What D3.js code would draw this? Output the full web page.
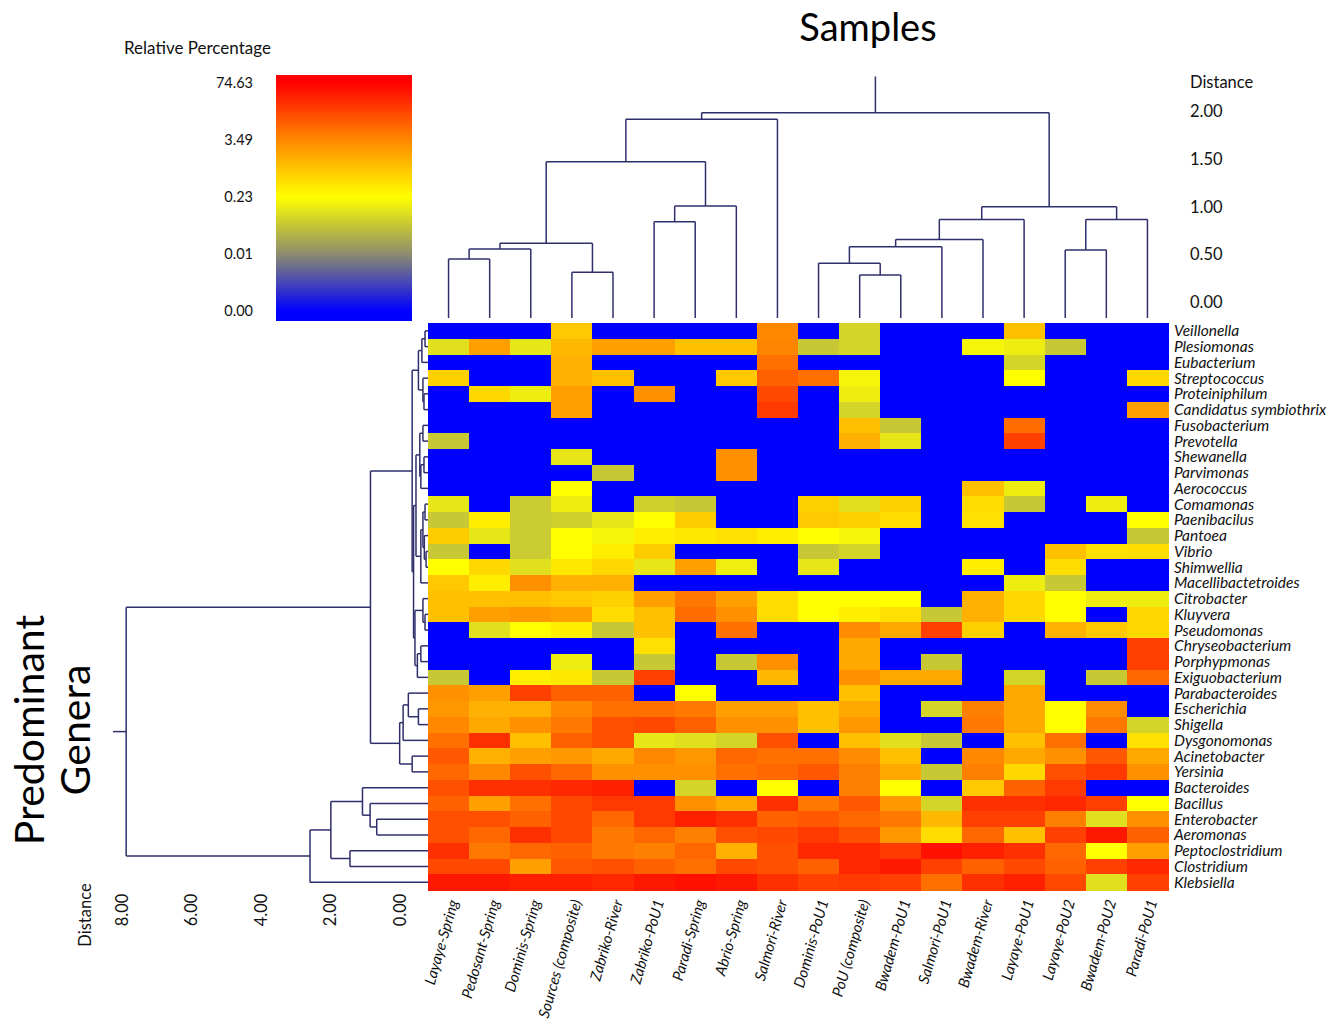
<!DOCTYPE html>
<html><head><meta charset="utf-8">
<script src="https://cdn.jsdelivr.net/npm/d3@7"></script>
<style>
body{margin:0;background:#fff;}
svg{display:block;font-family:Lato,'Open Sans',sans-serif;}
</style>
</head><body>
<svg id="chart" width="1343" height="1027"></svg>
<script>
// ---------------- data ----------------
const samples = ["Layaye-Spring","Pedosant-Spring","Dominis-Spring","Sources (composite)","Zabriko-River","Zabriko-PoU1","Paradi-Spring","Abrio-Spring","Salmori-River","Dominis-PoU1","PoU (composite)","Bwadem-PoU1","Salmori-PoU1","Bwadem-River","Layaye-PoU1","Layaye-PoU2","Bwadem-PoU2","Paradi-PoU1"];

const genera = ["Veillonella","Plesiomonas","Eubacterium","Streptococcus","Proteiniphilum","Candidatus symbiothrix","Fusobacterium","Prevotella","Shewanella","Parvimonas","Aerococcus","Comamonas","Paenibacilus","Pantoea","Vibrio","Shimwellia","Macellibactetroides","Citrobacter","Kluyvera","Pseudomonas","Chryseobacterium","Porphypmonas","Exiguobacterium","Parabacteroides","Escherichia","Shigella","Dysgonomonas","Acinetobacter","Yersinia","Bacteroides","Bacillus","Enterobacter","Aeromonas","Peptoclostridium","Clostridium","Klebsiella"];

// relative percentage, one row per genus, one column per sample
const values = [
 [0,0,0,1.74,0,0,0,0,3.49, 0,0.15,0,0,0,1.96,0,0,0],
 [0.17,2.83,0.185,2.18,2.83,2.83,1.96,1.96,5, 0.125,0.15,0,0,0.21,0.195,0.125,0,0],
 [0,0,0,2.39,0,0,0,0,16, 0,0,0,0,0,0.15,0,0,0],
 [1.52,0,0,2.39,1.96,0,0,1.74,24, 16,0.21,0,0,0,0.23,0,0,1.3],
 [0,1.3,0.195,2.83,0,3.27,0,0,36.9, 0,0.195,0,0,0,0,0,0,0],
 [0,0,0,2.83,0,0,0,0,45, 0,0.15,0,0,0,0,0,0,2.83],
 [0,0,0,0,0,0,0,0,0, 0,1.96,0.125,0,0,18,0,0,0],
 [0.125,0,0,0,0,0,0,0,0, 0,2.39,0.185,0,0,41,0,0,0],
 [0,0,0,0.185,0,0,0,3.27,0, 0,0,0,0,0,0,0,0,0],
 [0,0,0,0,0.125,0,0,3.27,0, 0,0,0,0,0,0,0,0,0],
 [0,0,0,0.23,0,0,0,0,0, 0,0,0,0,1.96,0.195,0,0,0],
 [0.185,0,0.13,0.195,0,0.14,0.125,0,0, 1.52,0.17,1.52,0,1.16,0.125,0,0.195,0],
 [0.125,0.7,0.13,0.14,0.185,0.23,1.63,0,0, 1.74,1.52,1.16,0,1.08,0,0,0,0.23],
 [1.63,0.185,0.13,0.23,0.21,0.7,0.86,1.08,0.7, 0.23,0.21,0,0,0,0,0,0,0.125],
 [0.125,0,0.13,0.23,0.7,1.63,0,0,0, 0.125,0.15,0,0,0,0,1.96,1.08,1.16],
 [0.23,1.3,0.17,0.86,1.3,0.185,2.83,0.2,0, 0.185,0,0,0,0.7,0,1.16,0,0],
 [1.74,0.7,3.27,2.39,2.39,0,0,0,0, 0,0,0,0,0,0.195,0.125,0,0],
 [1.96,1.96,1.96,1.74,1.52,2.83,11.9,2.83,1.16, 0.23,0.23,0.23,0,2.39,1.3,0.23,0.195,0.195],
 [1.96,2.83,3.05,2.83,1.16,1.96,18,3.27,1.16, 0.23,0.7,1.08,0.125,2.39,1.3,0.23,0,1.3],
 [0,0.17,0.23,0.7,0.125,1.96,0,16,0, 0,3.38,2.61,41,1.52,0,2.39,1.74,1.3],
 [0,0,0,0,0,1.08,0,0,0, 0,2.61,0,0,0,0,0,0,41],
 [0,0,0,0.195,0,0.125,0,0.125,3.27, 0,2.61,0,0.125,0,0,0,0,41],
 [0.125,0,0.7,0.86,0.125,41,0,0,2.18, 0,3.27,2.61,2.61,0,0.15,0,0.125,20.2],
 [3.27,2.83,41,24.4,24.4,0,0.23,0,0, 0,1.96,0,0,0,2.61,0,0,0],
 [3.05,2.39,2.39,3.49,16,16,11.9,2.83,2.83, 1.96,2.61,0,0.15,7.7,2.61,0.23,3.38,0],
 [3.49,2.61,3.27,11.9,32.7,36.9,24.4,3.27,3.27, 1.96,3.05,0,0,11.9,2.61,0.23,11.9,0.15],
 [16,49.5,1.96,24.4,32.7,0.185,0.17,0.15,32.7, 0,1.96,0.17,0.125,0,1.96,16,0,1.08],
 [28.5,2.39,2.83,3.05,2.61,3.49,3.05,20.2,16, 16,3.38,1.96,0,3.49,2.61,3.27,28.5,2.61],
 [20.2,3.49,32.7,20.2,3.27,3.27,3.27,16,20.2, 28.5,7.7,2.61,0.125,7.7,1.3,32.7,45,3.27],
 [32.7,49.5,49.5,53.7,57.9,0,0.15,0,0.23, 0,7.7,0.23,0,1.74,24.4,45,0,0],
 [24.4,2.83,16,36.9,45,45,3.27,2.61,49.5, 11.9,28.5,3.05,0.15,49.5,49.5,53.7,41,0.23],
 [32.7,32.7,24.4,36.9,20.2,45,57.9,49.5,24.4, 28.5,20.2,11.9,2.18,41,41,7.7,0.17,3.27],
 [32.7,20.2,49.5,36.9,11.9,20.2,7.7,32.7,36.9, 45,32.7,3.05,1.16,20.2,1.96,41,62.1,24.4],
 [49.5,11.9,20.2,24.4,11.9,7.7,20.2,2.39,32.7, 53.7,53.7,45,66.3,57.9,49.5,20.2,0.23,2.83],
 [36.9,36.9,2.83,28.5,32.7,24.4,16,36.9,32.7, 24.4,53.7,62.1,41,24.4,36.9,24.4,41,53.7],
 [62.1,62.1,57.9,57.9,53.7,62.1,66.3,62.1,49.5, 41,45,41,16,49.5,57.9,36.9,0.17,41]
];

const legendTickLabels = ["74.63","3.49","0.23","0.01","0.00"];
const legendTickValues = [74.63,3.49,0.23,0.01,0];
const colorDomain = [0,0.01,0.23,3.49,74.63];
const colorRange = ["#0000ff","#8c8c6e","#ffff00","#ff8800","#ff0000"];

// dendrograms: [distance, left, right]; numbers are leaf indices
const sampleTree = [1.99,
  [1.92, [1.476, [0.62, [0.56, [0.455, 0, 1], 2], [0.315, 3, 4]], [1.01, [0.846, 5, 6], 7]], 8],
  [1.003, [0.87, [0.66, [0.584, [0.41, 9, [0.287, 10, 11]], 12], 13], 14], [0.87, [0.55, 15, 16], 17]]
];
const sampleTreeStem = 2.37;
const sampleAxisTicks = [0,0.5,1,1.5,2];

const generaTree = [7.88,
  [0.85,
    [-0.35,
      [-0.53, [-0.63, [-0.72, 0, 1], 2], [-0.66, 3, [-0.69, 4, 5]]],
      [-0.39,
        [-0.46,
          [-0.57, [-0.66, 6, 7], [-0.6, [-0.69, 8, 9], 10]],
          [-0.6, [-0.66, [-0.72, 11, 12], [-0.7, 13, [-0.75, 14, 15]]], 16]],
        [-0.43, [-0.66, 17, [-0.72, 18, 19]], [-0.5, [-0.6, 20, 21], 22]]]],
    [0.01, [-0.09, [-0.24, 23, [-0.53, 24, 25]], 26], [-0.35, 27, 28]]],
  [2.59, [1.99, [1.08, 29, [0.86, 30, [0.67, 31, 32]]], [1.44, 33, 34]], 35]
];
const generaTreeStem = 8.26;
const generaAxisTicks = [0,2,4,6,8];

// ---------------- drawing ----------------
const svg = d3.select("#chart");
const hm = {left:428, right:1168, top:323, bottom:890};
const lineColor = "#2f2f6c";

const x = d3.scaleBand().domain(samples).range([hm.left, hm.right]);
const y = d3.scaleBand().domain(genera).range([hm.top, hm.bottom]);
const color = d3.scaleLinear().domain(colorDomain).range(colorRange).interpolate(d3.interpolateRgb).clamp(true);

// heatmap cells
const cells = [];
values.forEach((row, i) => row.forEach((v, j) => cells.push({g: genera[i], s: samples[j], v})));
svg.append("g").selectAll("rect").data(cells).join("rect")
  .attr("x", d => x(d.s)).attr("y", d => y(d.g))
  .attr("width", x.bandwidth() + 0.6).attr("height", y.bandwidth() + 0.6)
  .attr("fill", d => color(d.v)).attr("shape-rendering", "crispEdges");

// dendrogram helper
function buildSegments(tree, posOf) {
  const segs = [];
  function rec(node) {
    if (typeof node === "number") return {p: posOf(node), h: null};
    const [h, a, b] = node;
    const A = rec(a), B = rec(b);
    segs.push({p1: A.p, h1: A.h, p2: A.p, h2: h});
    segs.push({p1: B.p, h1: B.h, p2: B.p, h2: h});
    segs.push({p1: A.p, h1: h, p2: B.p, h2: h});
    return {p: (A.p + B.p) / 2, h};
  }
  const root = rec(tree);
  return {segs, root};
}

// top (samples) dendrogram
const yD = d3.scaleLinear().domain([0, 2]).range([302.3, 111.7]);
const topLeafY = hm.top - 5;
const topD = buildSegments(sampleTree, i => x(samples[i]) + x.bandwidth() / 2);
topD.segs.push({p1: topD.root.p, h1: topD.root.h, p2: topD.root.p, h2: sampleTreeStem});
const tY = h => h === null ? topLeafY : yD(h);
svg.append("g").selectAll("line").data(topD.segs).join("line")
  .attr("x1", d => d.p1).attr("x2", d => d.p2)
  .attr("y1", d => tY(d.h1)).attr("y2", d => tY(d.h2))
  .attr("stroke", lineColor).attr("stroke-width", 1.5);

const topAxis = svg.append("g").attr("font-size", 16.5).attr("fill", "#111");
topAxis.append("text").attr("x", 1190).attr("y", 88).text("Distance");
topAxis.selectAll("text.tk").data(sampleAxisTicks).join("text").attr("class", "tk")
  .attr("x", 1190).attr("y", d => yD(d)).attr("dy", "0.35em").text(d => d3.format(".2f")(d));

// left (genera) dendrogram
const xD = d3.scaleLinear().domain([0, 8]).range([400, 122]);
const leftD = buildSegments(generaTree, i => y(genera[i]) + y.bandwidth() / 2);
leftD.segs.push({p1: leftD.root.p, h1: leftD.root.h, p2: leftD.root.p, h2: generaTreeStem});
const lX = h => h === null ? hm.left : xD(h);
svg.append("g").selectAll("line").data(leftD.segs).join("line")
  .attr("y1", d => d.p1).attr("y2", d => d.p2)
  .attr("x1", d => lX(d.h1)).attr("x2", d => lX(d.h2))
  .attr("stroke", lineColor).attr("stroke-width", 1.5);

const leftAxis = svg.append("g").attr("font-size", 16.5).attr("fill", "#111");
leftAxis.selectAll("text.tk").data(generaAxisTicks).join("text").attr("class", "tk")
  .attr("transform", d => `translate(${xD(d)},910) rotate(-90)`)
  .attr("text-anchor", "middle").attr("dy", "0.35em").text(d => d3.format(".2f")(d));
leftAxis.append("text").attr("transform", "translate(85,915) rotate(-90)")
  .attr("text-anchor", "middle").attr("dy", "0.35em").text("Distance");

// row labels
svg.append("g").attr("font-size", 15.5).attr("font-style", "italic").attr("fill", "#111")
  .selectAll("text").data(genera).join("text")
  .attr("x", hm.right + 6).attr("y", d => y(d) + y.bandwidth() / 2).attr("dy", "0.35em").text(d => d);

// column labels
svg.append("g").attr("font-size", 15).attr("font-style", "italic").attr("fill", "#111")
  .selectAll("text").data(samples).join("text")
  .attr("transform", d => `translate(${x(d) + x.bandwidth() / 2 + 5},900) rotate(-74)`)
  .attr("text-anchor", "end").attr("dy", "0.35em").text(d => d);

// legend
const legend = {x: 276, y: 75, w: 136, h: 246};
const ly = d3.scaleLinear().domain([0, legendTickValues.length - 1]).range([83, 311]);
const defs = svg.append("defs");
const grad = defs.append("linearGradient").attr("id", "lg").attr("x1", 0).attr("x2", 0).attr("y1", 0).attr("y2", 1);
legendTickValues.forEach((v, i) => {
  grad.append("stop").attr("offset", (ly(i) - legend.y) / legend.h).attr("stop-color", color(v));
});
svg.append("rect").attr("x", legend.x).attr("y", legend.y).attr("width", legend.w).attr("height", legend.h)
  .attr("fill", "url(#lg)");
svg.append("g").attr("font-size", 14.5).attr("fill", "#111").attr("text-anchor", "end")
  .selectAll("text").data(legendTickLabels).join("text")
  .attr("x", 253).attr("y", (d, i) => ly(i)).attr("dy", "0.35em").text(d => d);
svg.append("text").attr("x", 124).attr("y", 54).attr("font-size", 17).attr("fill", "#111").text("Relative Percentage");

// titles
svg.append("text").attr("x", 868).attr("y", 41).attr("text-anchor", "middle").attr("font-size", 38).attr("fill", "#000").text("Samples");
svg.append("text").attr("transform", "translate(44,730) rotate(-90)").attr("text-anchor", "middle").attr("font-size", 41).attr("fill", "#000").text("Predominant");
svg.append("text").attr("transform", "translate(90,730) rotate(-90)").attr("text-anchor", "middle").attr("font-size", 41).attr("fill", "#000").text("Genera");
</script>
</body></html>
